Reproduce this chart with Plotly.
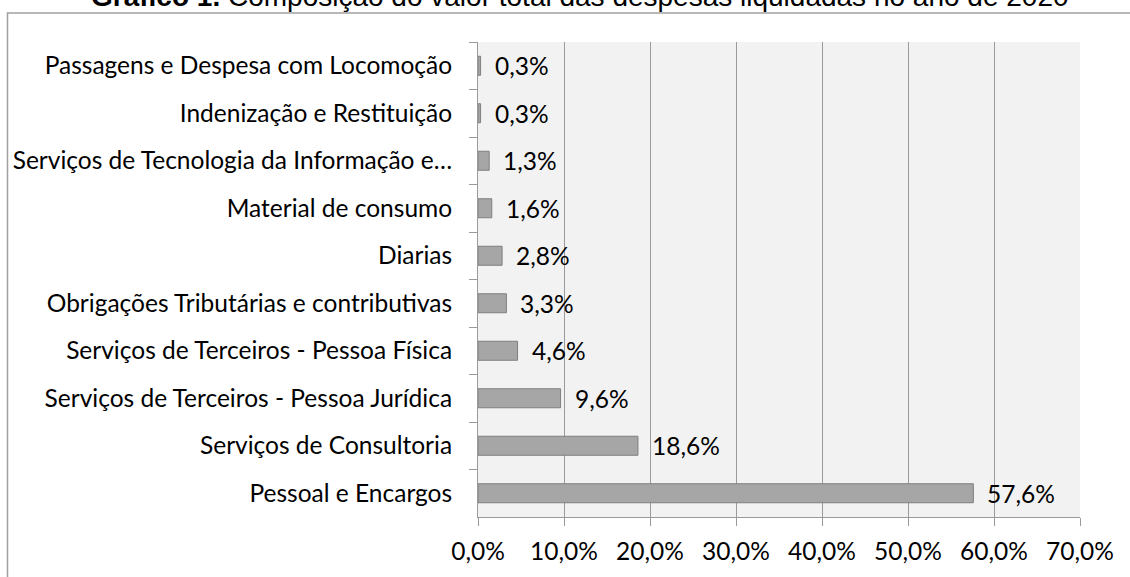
import plotly.graph_objects as go

categories = [
    "Passagens e Despesa com Locomoção",
    "Indenização e Restituição",
    "Serviços de Tecnologia da Informação e…",
    "Material de consumo",
    "Diarias",
    "Obrigações Tributárias e contributivas",
    "Serviços de Terceiros - Pessoa Física",
    "Serviços de Terceiros - Pessoa Jurídica",
    "Serviços de Consultoria",
    "Pessoal e Encargos",
]
values = [0.3, 0.3, 1.3, 1.6, 2.8, 3.3, 4.6, 9.6, 18.6, 57.6]
x_ticks = [0, 10, 20, 30, 40, 50, 60, 70]
x_tick_labels = ["0,0%", "10,0%", "20,0%", "30,0%", "40,0%", "50,0%", "60,0%", "70,0%"]
value_labels = [f"{v:.1f}%".replace(".", ",") for v in values]

W, H = 1130, 577
ml, mr, mt, mb = 478, 50, 42, 60
pw, ph = W - ml - mr, H - mt - mb

FONT = "Lato"
fs = 24.5

fig = go.Figure()
fig.add_trace(go.Bar(
    y=categories, x=values, orientation="h",
    marker=dict(color="#a6a6a6", line=dict(color="#7f7f7f", width=1)),
    hoverinfo="skip",
))

annotations = []
for c, v, t in zip(categories, values, value_labels):
    annotations.append(dict(
        x=v, y=c, xref="x", yref="y", text=t, showarrow=False,
        xanchor="left", yanchor="middle", xshift=12,
        font=dict(family=FONT, size=fs, color="#000000"),
    ))

annotations.append(dict(
    x=(W / 2 + 15 - ml) / pw, y=1 + (mt + 4) / ph, xref="paper", yref="paper",
    text="<b>Gráfico 1.</b> Composição do valor total das despesas liquidadas no ano de 2020",
    showarrow=False, xanchor="center", yanchor="middle",
    font=dict(family="Liberation Sans", size=28, color="#000000"),
))

shapes = [dict(
    type="rect", xref="paper", yref="paper",
    x0=(7.5 - ml) / pw, x1=(W + 20 - ml) / pw,
    y0=1 + (mt - 13) / ph, y1=-(mb + 20) / ph,
    line=dict(color="#a0a0a0", width=1.5), fillcolor="rgba(0,0,0,0)", layer="below",
)]

fig.update_layout(
    width=W, height=H,
    margin=dict(l=ml, r=mr, t=mt, b=mb),
    paper_bgcolor="#ffffff",
    plot_bgcolor="#f2f2f2",
    bargap=0.6,
    showlegend=False,
    annotations=annotations,
    shapes=shapes,
    font=dict(family=FONT, size=fs, color="#000000"),
)
fig.update_xaxes(
    range=[0, 70], tickvals=x_ticks, ticktext=x_tick_labels,
    showgrid=True, gridcolor="#9a9a9a", gridwidth=1,
    zeroline=False, showline=True, linecolor="#9a9a9a", linewidth=1,
    ticks="outside", ticklen=8, tickcolor="#9a9a9a",
    ticklabelstandoff=5,
    tickfont=dict(family=FONT, size=fs, color="#000000"),
    fixedrange=True,
)
fig.update_yaxes(
    autorange="reversed", showgrid=False, zeroline=False,
    showline=True, linecolor="#9a9a9a", linewidth=1,
    ticks="outside", ticklen=8, tickcolor="#9a9a9a", tickson="boundaries",
    ticklabelstandoff=20,
    tickfont=dict(family=FONT, size=fs, color="#000000"),
    fixedrange=True,
)

fig.write_html("out.html", config={"displayModeBar": False})
